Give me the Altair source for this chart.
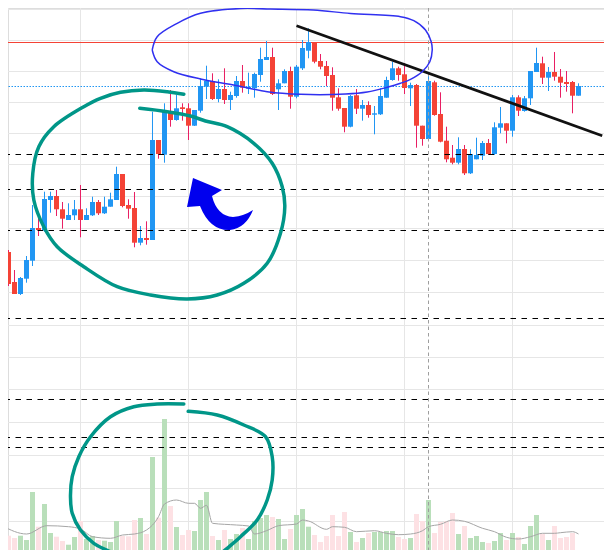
import altair as alt
import pandas as pd

# ---------------- data ----------------
opens = [73.93, 74.80, 71.80, 70.60, 72.13, 73.93, 77.20, 76.93, 80.00, 80.40,
         79.07, 78.00, 78.47, 79.07, 78.00, 78.47, 79.80, 78.67, 79.33, 80.00,
         82.60, 79.50, 79.20, 75.73, 76.20, 76.00, 86.00, 84.53, 88.90, 88.00,
         89.27, 89.17, 87.43, 88.93, 91.33, 91.90, 90.10, 91.10, 90.00, 90.40,
         91.90, 91.13, 91.17, 92.50, 94.00, 94.30, 91.07, 91.67, 92.90, 90.33,
         93.17, 94.93, 95.80, 93.90, 93.40, 92.50, 90.27, 89.20, 87.33, 90.47,
         89.13, 89.50, 88.53, 88.57, 90.23, 92.00, 93.17, 92.57, 91.17, 91.50,
         87.43, 86.10, 91.77, 88.60, 85.93, 84.23, 83.73, 85.10, 82.67, 84.07,
         84.43, 85.70, 84.60, 87.23, 87.67, 86.93, 90.27, 88.90, 90.17, 92.80,
         93.67, 92.23, 92.80, 92.33, 91.80, 91.80, 90.43]
highs = [75.00, 75.00, 73.00, 72.30, 74.40, 79.50, 78.83, 80.83, 80.83, 81.00,
         79.80, 79.67, 80.00, 81.50, 79.17, 80.33, 80.00, 80.33, 80.73, 83.33,
         82.60, 80.07, 80.80, 77.40, 77.87, 88.83, 86.00, 89.67, 91.00, 90.50,
         89.67, 89.67, 89.00, 92.17, 93.43, 92.67, 92.07, 93.17, 90.83, 92.40,
         93.50, 92.73, 92.73, 95.23, 95.90, 95.23, 92.07, 93.07, 93.33, 93.50,
         96.00, 97.17, 95.80, 94.60, 93.90, 93.27, 91.17, 89.20, 90.50, 91.10,
         90.00, 89.87, 89.40, 91.17, 92.33, 93.83, 93.33, 93.67, 91.73, 91.60,
         87.43, 92.67, 91.93, 90.77, 87.33, 85.50, 86.27, 85.50, 85.07, 86.23,
         85.90, 86.10, 87.77, 89.30, 87.67, 90.50, 90.47, 90.40, 92.90, 95.23,
         94.33, 93.30, 94.80, 93.10, 92.90, 91.90, 91.67]
lows = [72.83, 71.40, 70.60, 70.50, 71.73, 73.40, 76.40, 76.83, 78.73, 78.40,
        77.13, 78.00, 78.00, 76.27, 78.00, 78.40, 78.50, 78.60, 79.33, 80.00,
        79.27, 78.13, 75.27, 75.47, 75.53, 76.00, 84.13, 83.73, 87.33, 87.93,
        87.93, 86.00, 87.40, 88.73, 90.10, 90.00, 89.77, 89.60, 89.00, 90.23,
        90.73, 90.60, 90.23, 91.83, 94.00, 90.50, 89.00, 91.67, 89.13, 90.17,
        93.00, 94.17, 93.67, 93.07, 91.40, 88.93, 88.93, 86.77, 87.27, 88.60,
        87.93, 88.23, 86.57, 88.50, 90.23, 91.93, 91.93, 90.60, 89.40, 85.23,
        85.43, 86.10, 88.43, 85.77, 83.77, 83.57, 83.57, 82.50, 82.60, 84.07,
        84.00, 84.50, 84.50, 86.67, 85.67, 86.33, 88.40, 88.83, 89.50, 92.80,
        91.60, 90.90, 91.93, 90.23, 90.83, 88.67, 90.43]
closes = [74.80, 71.60, 70.60, 72.20, 74.00, 77.20, 77.00, 80.10, 80.40, 79.07,
          78.13, 78.50, 79.07, 78.00, 78.50, 79.80, 78.67, 79.33, 80.07, 82.60,
          79.40, 79.13, 75.73, 76.20, 76.00, 86.00, 84.60, 88.83, 88.00, 89.17,
          89.10, 87.43, 89.00, 91.40, 91.93, 90.10, 91.10, 90.00, 90.50, 91.90,
          91.23, 91.33, 92.60, 94.10, 94.30, 90.60, 91.67, 92.90, 90.33, 93.33,
          95.20, 95.80, 93.83, 93.33, 92.40, 90.23, 89.13, 87.33, 90.40, 89.13,
          89.50, 88.50, 88.67, 90.40, 92.00, 93.17, 92.50, 91.20, 91.50, 87.43,
          86.10, 91.90, 88.50, 85.83, 84.07, 83.73, 85.10, 82.67, 84.60, 84.50,
          85.70, 84.60, 87.27, 87.67, 86.93, 90.27, 88.93, 90.17, 92.90, 93.70,
          92.23, 92.80, 92.33, 91.73, 91.60, 90.43, 91.40]
volumes = [223, 223, 200, 223, 180, 660, 313, 540, 250, 213,
           170, 133, 210, 370, 190, 220, 180, 173, 160, 370,
           220, 217, 380, 400, 240, 1010, 403, 1390, 520, 310,
           230, 280, 270, 580, 660, 220, 180, 280, 190, 240,
           300, 190, 370, 400, 430, 410, 390, 190, 290, 430,
           490, 313, 230, 160, 220, 430, 220, 460, 260, 160,
           200, 250, 260, 260, 270, 270, 210, 190, 200, 440,
           370, 580, 250, 360, 370, 450, 240, 320, 200, 220,
           160, 150, 170, 250, 180, 250, 210, 140, 320, 430,
           240, 180, 320, 200, 210, 250, 70]

# volume moving average, read at these bar positions
ma_pos = [0, 4, 7.4, 11, 13, 15, 18, 20, 22, 24, 26, 27, 29, 31, 32, 33, 34, 35, 39, 41,
          42, 44, 46, 49, 50, 51, 54, 55, 57, 59, 62, 64, 66, 68, 70, 71, 73, 75, 77, 80,
          82, 84, 86, 88, 90, 92, 93, 95, 96]
ma_vol = [320, 240, 323, 313, 290, 213, 197, 230, 240, 280, 413, 540, 580, 547, 547, 497, 527, 347, 330, 320,
          240, 273, 323, 340, 380, 370, 287, 313, 307, 263, 273, 247, 233, 240, 273, 313, 337, 380, 367, 297,
          263, 207, 190, 213, 247, 247, 253, 263, 240]

# price levels
grid_levels = [99.05, 95.95, 92.85, 89.75, 86.65, 83.55, 80.35, 77.15, 73.95, 70.75,
               67.45, 64.25, 61.05, 57.75, 54.45, 51.15, 47.85, 44.75]
time_grid = [13, 31, 49, 67, 85]
dashed_levels = [84.55, 81.05, 76.95, 68.15, 60.05, 56.25, 55.25]
red_level = [95.75]
last_price = [91.35]
crosshair = [71]

# hand-drawn annotations (bar position, price)
ellipse_pos = [24.95, 25.78, 29.12, 33.0, 39.67, 44.67, 51.83, 58.0, 66.33, 68.55, 70.5, 71.45, 71.62, 71.22,
               69.95, 68.0, 66.33, 64.12, 60.78, 57.17, 49.67, 44.12, 38.5, 33.0, 28.55, 25.78, 24.95]
ellipse_price = [95.0, 96.33, 97.67, 98.67, 99.15, 99.1, 99.0, 98.65, 98.33, 97.93, 97.0, 95.83, 95.0, 93.83,
                 92.83, 92.07, 91.67, 91.27, 90.8, 90.6, 90.57, 90.83, 91.5, 92.1, 92.83, 93.83, 95.0]
trend_pos = [49.0, 99.95]
trend_price = [97.43, 86.43]
loop1_pos = [30.22, 27.45, 23.55, 19.67, 16.33, 13.55, 8.55, 6.05, 5.05, 5.22, 6.88, 9.12, 13.55, 19.12,
             24.67, 30.78, 35.78, 40.22, 44.12, 46.33, 47.05, 46.62, 44.95, 41.88, 37.45, 33.83, 31.33,
             27.45, 22.88]
loop1_price = [90.57, 90.83, 91.0, 90.77, 90.17, 89.33, 87.33, 85.33, 82.67, 80.0, 77.33, 75.33, 73.33, 71.33,
               70.5, 70.1, 70.5, 71.67, 73.67, 76.67, 79.33, 81.33, 83.67, 85.67, 87.33, 87.9, 88.4,
               88.83, 89.17]
loop2a_pos = [30.22, 25.78, 21.88, 18.0, 14.67, 12.72, 11.62, 11.33, 11.62, 13.0, 15.22, 18.0, 20.78, 22.17]
loop2a_price = [59.6, 59.6, 59.33, 58.33, 56.33, 54.33, 52.33, 50.33, 48.67, 47.0, 45.67, 44.83, 44.2, 43.8]
loop2b_pos = [30.95, 35.78, 40.22, 43.83, 44.95, 44.95, 44.12, 42.45, 39.67, 37.45, 35.5, 34.33]
loop2b_price = [58.87, 58.5, 57.5, 56.33, 54.33, 52.0, 50.0, 48.0, 46.33, 45.17, 44.2, 43.6]
arrow_pos = [36.25]
arrow_price = [79.6]

# ---------------- styles ----------------
BLUE = "#2196f3"
RED = "#f44336"
RED_WICK = "#e91e63"
VOL_UP = "#b9dfba"
VOL_DOWN = "#fde1e4"
GRID = "#e6e6e6"
TEAL = "#009688"
ARROW_PATH = "M -27 -26 L 2 -14 L -8 -8 Q -3 12 13 13 Q 24 12 33 6 Q 26 24 10 26 Q -10 27 -20 2 L -33 3 Z"

candles = pd.DataFrame({
    "i": list(range(len(opens))), "open": opens, "high": highs,
    "low": lows, "close": closes, "volume": volumes,
})

XS = alt.Scale(domain=[0.91667, 100.25], nice=False, zero=False, padding=0)
PS = alt.Scale(domain=[45.0, 99.2], nice=False, zero=False, padding=0)
VS = alt.Scale(domain=[80, 5500], nice=False, zero=False, padding=0)

up = "datum.close >= datum.open"


def xq(field):
    return alt.X(f"{field}:Q", scale=XS, axis=None)


def pq(field):
    return alt.Y(f"{field}:Q", scale=PS, axis=None)


hgrid = alt.Chart(pd.DataFrame({"p": grid_levels})).mark_rule(color=GRID, strokeWidth=1).encode(y=pq("p"))
vgrid = alt.Chart(pd.DataFrame({"k": time_grid})).mark_rule(color=GRID, strokeWidth=1).encode(x=xq("k"))

vol_bars = alt.Chart(candles).mark_bar(size=5, clip=True).encode(
    x=xq("i"), y=alt.Y("volume:Q", scale=VS, axis=None), y2=alt.datum(0),
    color=alt.condition(up, alt.value(VOL_UP), alt.value(VOL_DOWN)),
)
vol_ma = alt.Chart(pd.DataFrame({"k": ma_pos, "v": ma_vol})).mark_line(
    color="#a6a6a6", strokeWidth=1, interpolate="monotone", clip=True
).encode(x=xq("k"), y=alt.Y("v:Q", scale=VS, axis=None))

red_line = alt.Chart(pd.DataFrame({"p": red_level})).mark_rule(color=RED, strokeWidth=1).encode(y=pq("p"))
last_line = alt.Chart(pd.DataFrame({"p": last_price})).mark_rule(
    color=BLUE, strokeWidth=1, strokeDash=[1.5, 1.5]).encode(y=pq("p"))

wicks = alt.Chart(candles).mark_rule(strokeWidth=1, clip=True).encode(
    x=xq("i"), y=pq("low"), y2="high:Q",
    color=alt.condition(up, alt.value(BLUE), alt.value(RED_WICK)),
)
bodies = alt.Chart(candles).mark_bar(size=5, clip=True).encode(
    x=xq("i"), y=pq("open"), y2="close:Q",
    color=alt.condition(up, alt.value(BLUE), alt.value(RED)),
)

dashed = alt.Chart(pd.DataFrame({"p": dashed_levels})).mark_rule(
    color="#000000", strokeWidth=1.2, strokeDash=[5.5, 5.5]).encode(y=pq("p"))
cross = alt.Chart(pd.DataFrame({"k": crosshair})).mark_rule(
    color="#9e9e9e", strokeWidth=1, strokeDash=[3.5, 3]).encode(x=xq("k"))

trend = alt.Chart(pd.DataFrame({"k": trend_pos, "p": trend_price})).mark_line(
    color="#111111", strokeWidth=2.7, clip=True).encode(x=xq("k"), y=pq("p"))

ell = alt.Chart(pd.DataFrame({"n": range(len(ellipse_pos)), "k": ellipse_pos, "p": ellipse_price})).mark_line(
    color="#3030f0", strokeWidth=1.5, interpolate="catmull-rom", clip=True
).encode(x=xq("k"), y=pq("p"), order="n:Q")

loops_df = pd.concat([
    pd.DataFrame({"s": "a", "n": range(len(loop1_pos)), "k": loop1_pos, "p": loop1_price}),
    pd.DataFrame({"s": "b", "n": range(len(loop2a_pos)), "k": loop2a_pos, "p": loop2a_price}),
    pd.DataFrame({"s": "c", "n": range(len(loop2b_pos)), "k": loop2b_pos, "p": loop2b_price}),
])
loops = alt.Chart(loops_df).mark_line(
    color=TEAL, strokeWidth=3.5, interpolate="catmull-rom", strokeCap="round", strokeJoin="round", clip=True
).encode(x=xq("k"), y=pq("p"), order="n:Q", detail="s:N")

arrow = alt.Chart(pd.DataFrame({"k": arrow_pos, "p": arrow_price})).mark_point(
    shape=ARROW_PATH, size=4, filled=True, color="#0000ee", opacity=1, strokeWidth=0
).encode(x=xq("k"), y=pq("p"))

chart = alt.layer(
    hgrid, vgrid, vol_bars, vol_ma, red_line, last_line, wicks, bodies,
    dashed, cross, trend, ell, loops, arrow
).resolve_scale(y="independent").properties(
    width=596, height=542, padding=0,
    autosize=alt.AutoSizeParams(type="none"),
).configure_view(stroke=None).configure(background="white")

chart.save("out.html", embed_options={"renderer": "svg", "actions": False})
